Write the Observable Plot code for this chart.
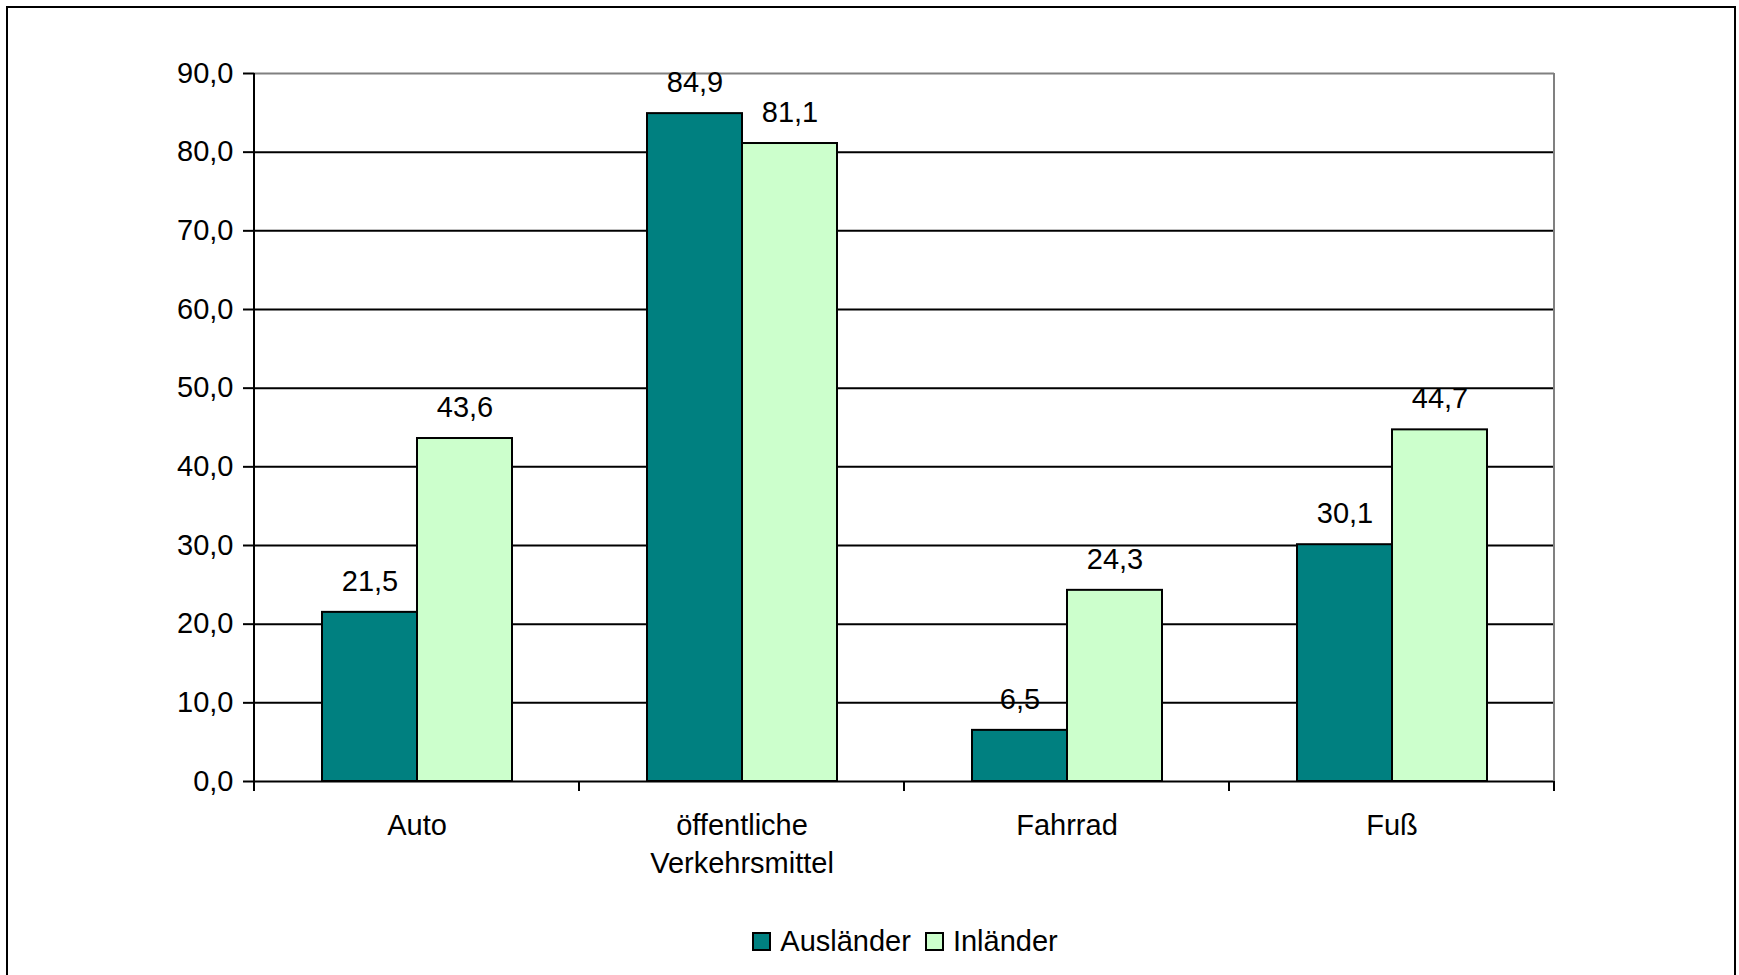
<!DOCTYPE html>
<html>
<head>
<meta charset="utf-8">
<script src="https://cdn.jsdelivr.net/npm/d3@7"></script>
<script src="https://cdn.jsdelivr.net/npm/@observablehq/plot@0.6"></script>
<style>
  html, body { margin: 0; padding: 0; background: #fff; }
  body { width: 1739px; height: 975px; position: relative; overflow: hidden; font-family: "Liberation Sans", Arial, sans-serif; }
  #border { position: absolute; left: 6px; top: 6px; width: 1726px; height: 1100px; border: 2px solid #000; }
  #chart { position: absolute; left: 0; top: 0; }
  #legend { position: absolute; top: 925px; left: 0; width: 1810px; display: flex; justify-content: center; align-items: center; font-size: 29px; color: #000; }
  .item { display: flex; align-items: center; margin: 0 7px; }
  .sw { width: 15px; height: 15px; border: 2px solid #000; margin-right: 9px; }
</style>
</head>
<body>
<div id="border"></div>
<div id="chart"></div>
<div id="legend"></div>
<script>
const categories = ["Auto", "öffentliche\nVerkehrsmittel", "Fahrrad", "Fuß"];
const seriesNames = ["Ausländer", "Inländer"];
const auslaender = [21.5, 84.9, 6.5, 30.1];
const inlaender = [43.6, 81.1, 24.3, 44.7];
const yTicks = [0, 10, 20, 30, 40, 50, 60, 70, 80, 90];
const colors = ["#008080", "#CCFFCC"];

const data = categories.flatMap((c, i) => [
  {category: c, series: seriesNames[0], value: auslaender[i]},
  {category: c, series: seriesNames[1], value: inlaender[i]}
]);
const fmt = d => d.toFixed(1).replace(".", ",");

const chart = Plot.plot({
  width: 1739,
  height: 900,
  marginLeft: 253,
  marginRight: 185,
  marginTop: 73,
  marginBottom: 119,
  style: {fontFamily: "'Liberation Sans', Arial, sans-serif", fontSize: "29px", color: "#000", background: "transparent"},
  fx: {domain: categories, padding: 0, axis: null},
  x: {domain: seriesNames, paddingInner: 0, paddingOuter: 0.7, axis: null},
  y: {domain: [0, 90], axis: null},
  color: {domain: seriesNames, range: colors},
  marks: [
    Plot.ruleY(yTicks.filter(t => t > 0 && t < 90), {stroke: "#000", strokeWidth: 2}),
    Plot.ruleY([90], {stroke: "#808080", strokeWidth: 2}),
    Plot.barY(data, {fx: "category", x: "series", y: "value", fill: "series", stroke: "#000", strokeWidth: 2}),
    Plot.text(data, {fx: "category", x: "series", y: "value", text: d => fmt(d.value), dy: -31, fontSize: 29, fill: "#000"}),
    Plot.ruleY([0], {stroke: "#000", strokeWidth: 2}),
    Plot.axisY({ticks: yTicks, tickFormat: fmt, tickSize: 11, tickPadding: 10, fontSize: 29, strokeWidth: 2, label: null}),
    Plot.axisFx({anchor: "bottom", tickSize: 0, tickPadding: 26, fontSize: 29, lineHeight: 1.32, label: null})
  ]
});

// Category boundary ticks, y axis line and right plot border from the library's scales
const fx = chart.scale("fx");
const y = chart.scale("y");
const svg = d3.select(chart);
const edges = categories.map(c => fx.apply(c)).concat([fx.apply(categories[categories.length - 1]) + fx.bandwidth]);
const y0 = y.apply(0), yTop = y.apply(90);
const g = svg.append("g");
g.selectAll("line.tick").data(edges).join("line")
  .attr("x1", d => d).attr("x2", d => d)
  .attr("y1", y0).attr("y2", y0 + 10)
  .attr("stroke", "#000").attr("stroke-width", 2);
g.append("line").attr("x1", edges[0]).attr("x2", edges[0]).attr("y1", yTop).attr("y2", y0)
  .attr("stroke", "#000").attr("stroke-width", 2);
g.append("line").attr("x1", edges[edges.length - 1]).attr("x2", edges[edges.length - 1]).attr("y1", yTop).attr("y2", y0)
  .attr("stroke", "#808080").attr("stroke-width", 2);

document.getElementById("chart").appendChild(chart);

const legend = document.getElementById("legend");
seriesNames.forEach((s, i) => {
  const item = document.createElement("div");
  item.className = "item";
  const sw = document.createElement("div");
  sw.className = "sw";
  sw.style.background = colors[i];
  const t = document.createElement("span");
  t.textContent = s;
  item.appendChild(sw);
  item.appendChild(t);
  legend.appendChild(item);
});
</script>
</body>
</html>
